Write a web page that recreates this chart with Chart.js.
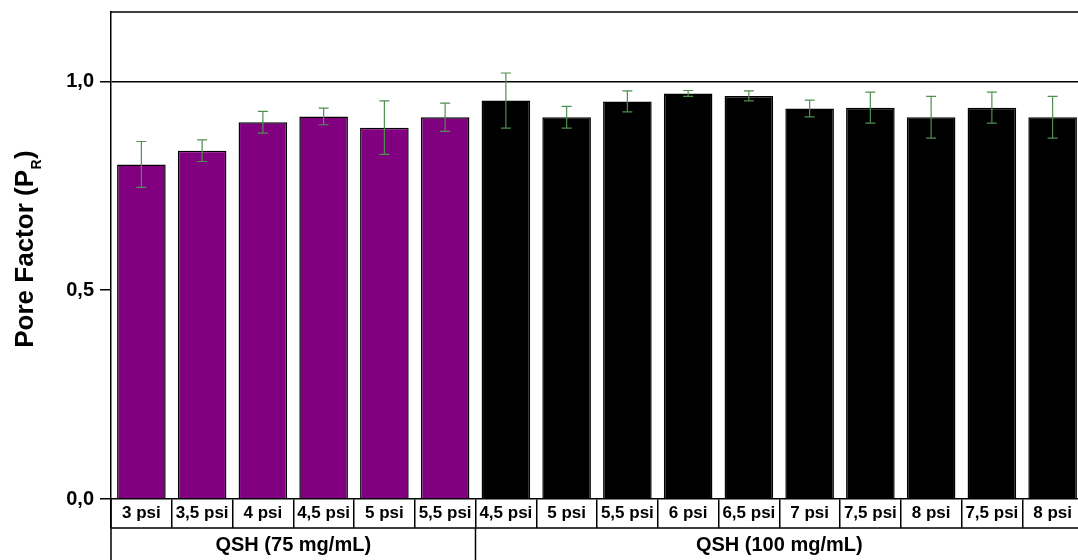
<!DOCTYPE html>
<html>
<head>
<meta charset="utf-8">
<script src="https://cdn.jsdelivr.net/npm/chart.js@4.4.1/dist/chart.umd.min.js"></script>
<style>
  html, body { margin: 0; padding: 0; background: #fff; overflow: hidden; }
  #wrap { width: 1100px; height: 560px; }
</style>
</head>
<body>
<div id="wrap"><canvas id="c" width="1100" height="560"></canvas></div>
<script>
// ---- data ----
const categories = ['3 psi', '3,5 psi', '4 psi', '4,5 psi', '5 psi', '5,5 psi',
                    '4,5 psi', '5 psi', '5,5 psi', '6 psi', '6,5 psi', '7 psi', '7,5 psi', '8 psi', '7,5 psi', '8 psi'];
const groupNames = ['QSH (75 mg/mL)', 'QSH (100 mg/mL)'];
const groupSizes = [6, 10];
const means75  = [0.801, 0.834, 0.902, 0.916, 0.889, 0.914];
const err75    = [0.055, 0.026, 0.026, 0.020, 0.064, 0.034];
const means100 = [0.954, 0.914, 0.952, 0.971, 0.965, 0.935, 0.937, 0.914, 0.937, 0.914];
const err100   = [0.066, 0.026, 0.025, 0.007, 0.012, 0.020, 0.037, 0.050, 0.037, 0.050];
const yTicks = [0, 0.5, 1.0];
const yMax = 1.166;

const FONT = '"Liberation Sans", Arial, Helvetica, sans-serif';
const pad = (arr, before, after) => Array(before).fill(null).concat(arr, Array(after).fill(null));

const data75  = pad(means75, 0, groupSizes[1]);
const data100 = pad(means100, groupSizes[0], 0);
const errs75  = pad(err75, 0, groupSizes[1]);
const errs100 = pad(err100, groupSizes[0], 0);

const errorBarPlugin = {
  id: 'errorBars',
  afterDatasetsDraw(chart) {
    const ctx = chart.ctx;
    const y = chart.scales.y;
    ctx.save();
    ctx.strokeStyle = '#4f8f4f';
    ctx.lineWidth = 1.2;
    chart.data.datasets.forEach((ds, di) => {
      const meta = chart.getDatasetMeta(di);
      meta.data.forEach((bar, i) => {
        const v = ds.data[i];
        const e = ds.errors[i];
        if (v == null || e == null) return;
        const x = bar.x;
        const yTop = y.getPixelForValue(v + e);
        const yBot = y.getPixelForValue(v - e);
        const cap = 5;
        ctx.beginPath();
        ctx.moveTo(x, yTop); ctx.lineTo(x, yBot);
        ctx.moveTo(x - cap, yTop); ctx.lineTo(x + cap, yTop);
        ctx.moveTo(x - cap, yBot); ctx.lineTo(x + cap, yBot);
        ctx.stroke();
      });
    });
    ctx.restore();
  }
};

const framePlugin = {
  id: 'frame',
  afterDraw(chart) {
    const ctx = chart.ctx;
    const a = chart.chartArea;
    const xs = chart.scales.x;
    const H = chart.height;
    const rowBottom = a.bottom + 29;
    ctx.save();
    ctx.strokeStyle = '#000';
    ctx.lineWidth = 1.5;
    // top border
    ctx.beginPath();
    ctx.moveTo(a.left, a.top); ctx.lineTo(chart.width, a.top);
    // category row bottom
    ctx.moveTo(a.left, rowBottom); ctx.lineTo(chart.width, rowBottom);
    // left line through label rows
    ctx.moveTo(a.left, a.bottom); ctx.lineTo(a.left, H);
    ctx.stroke();
    // group dividers & labels
    let start = 0;
    ctx.fillStyle = '#000';
    ctx.font = 'bold 20px ' + FONT;
    ctx.textAlign = 'center';
    ctx.textBaseline = 'middle';
    groupSizes.forEach((n, g) => {
      const end = start + n - 1;
      const half = (xs.getPixelForValue(1) - xs.getPixelForValue(0)) / 2;
      const x0 = xs.getPixelForValue(start) - half;
      const x1 = xs.getPixelForValue(end) + half;
      if (g > 0) {
        ctx.beginPath();
        ctx.moveTo(x0, rowBottom); ctx.lineTo(x0, H);
        ctx.stroke();
      }
      ctx.fillText(groupNames[g], (x0 + x1) / 2, rowBottom + 17);
      start += n;
    });
    // y axis title with subscript
    ctx.save();
    const cy = 249;
    const mainF = 'bold 26px ' + FONT;
    const subF = 'bold 14px ' + FONT;
    ctx.font = mainF;
    const w1 = ctx.measureText('Pore Factor (P').width;
    const w3 = ctx.measureText(')').width;
    ctx.font = subF;
    const w2 = ctx.measureText('R').width;
    const total = w1 + w2 + w3 + 1;
    ctx.translate(33, cy);
    ctx.rotate(-Math.PI / 2);
    ctx.textAlign = 'left';
    ctx.textBaseline = 'alphabetic';
    let x = -total / 2;
    ctx.font = mainF;
    ctx.fillText('Pore Factor (P', x, 0);
    x += w1 + 0.5;
    ctx.font = subF;
    ctx.fillText('R', x, 8);
    x += w2 + 0.5;
    ctx.font = mainF;
    ctx.fillText(')', x, 0);
    ctx.restore();
    ctx.restore();
  }
};

new Chart(document.getElementById('c'), {
  type: 'bar',
  data: {
    labels: categories,
    datasets: [
      { label: groupNames[0], data: data75, errors: errs75, backgroundColor: '#800080',
        borderColor: '#000', borderWidth: 1.5, borderSkipped: 'bottom', grouped: false },
      { label: groupNames[1], data: data100, errors: errs100, backgroundColor: '#000',
        borderColor: '#000', borderWidth: 1.5, borderSkipped: 'bottom', grouped: false }
    ]
  },
  options: {
    responsive: false,
    animation: false,
    devicePixelRatio: 1,
    layout: { padding: { top: 12, right: 17, left: 0, bottom: 0 } },
    datasets: { bar: { categoryPercentage: 1.0, barPercentage: 0.8 } },
    plugins: { legend: { display: false }, tooltip: { enabled: false } },
    scales: {
      x: {
        type: 'category',
        offset: true,
        afterFit(scale) { scale.height = 61; scale.paddingLeft = 0; scale.paddingRight = 0; },
        grid: { offset: true, drawOnChartArea: false, drawTicks: true, tickLength: 29,
                tickColor: '#000', tickWidth: 1.5, color: '#000', lineWidth: 1.5 },
        border: { display: true, color: '#000', width: 1.5 },
        ticks: { color: '#000', font: { family: FONT, size: 17, weight: 'bold' },
                 padding: -25, maxRotation: 0, autoSkip: false }
      },
      y: {
        min: 0,
        max: yMax,
        afterFit(scale) { scale.width = 111; scale.paddingTop = 0; scale.paddingBottom = 0; },
        afterBuildTicks(scale) { scale.ticks = yTicks.map(v => ({ value: v })); },
        grid: { color: (c) => (c.tick && c.tick.value === 1 ? '#000' : 'rgba(0,0,0,0)'),
                lineWidth: 1.5, tickColor: '#000', tickWidth: 1.5, tickLength: 11, drawTicks: true },
        border: { display: true, color: '#000', width: 1.5 },
        ticks: { color: '#000', font: { family: FONT, size: 20, weight: 'bold' }, padding: 6,
                 callback: (v) => Number(v).toFixed(1).replace('.', ',') }
      }
    }
  },
  plugins: [errorBarPlugin, framePlugin]
});
</script>
</body>
</html>
